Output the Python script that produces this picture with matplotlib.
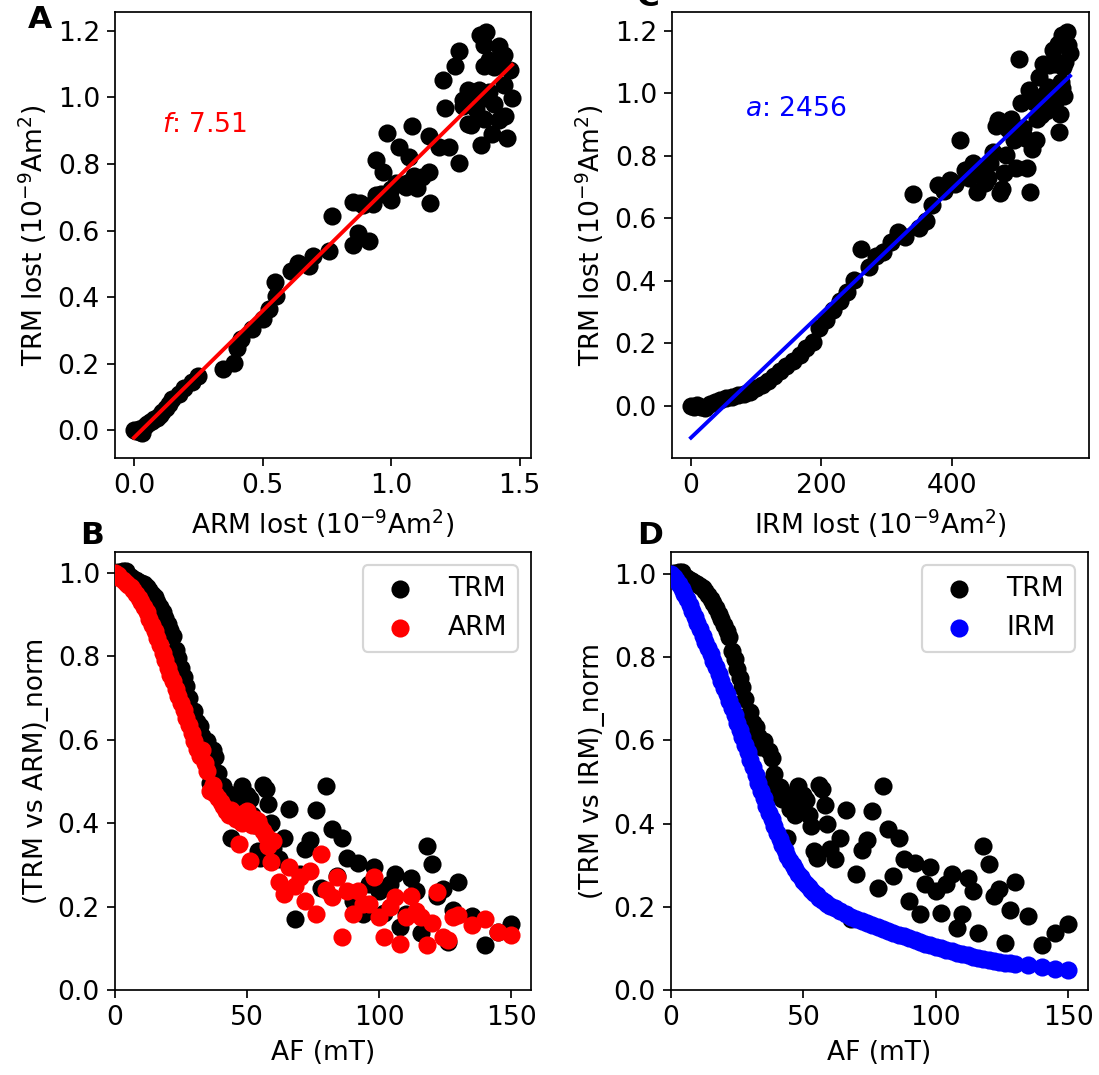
import numpy as np
import matplotlib
matplotlib.use("Agg")
import matplotlib.pyplot as plt

plt.rcParams["font.size"] = 12.3

# Alternating-field demagnetisation steps (mT)
af_mT = [
    0, 1, 2, 3, 4, 5, 6, 7, 8, 9,
    10, 11, 12, 13, 14, 15, 16, 17, 18, 19,
    20, 21, 22, 23, 24, 25, 26, 27, 28, 29,
    30, 31, 32, 33, 34, 35, 36, 37, 38, 39,
    40, 41, 42, 43, 44, 45, 46, 47, 48, 49,
    50, 51, 52, 53, 54, 55, 56, 57, 58, 59,
    60, 62, 64, 66, 68, 70, 72, 74, 76, 78,
    80, 82, 84, 86, 88, 90, 92, 94, 96, 98,
    100, 102, 104, 106, 108, 110, 112, 114, 116, 118,
    120, 122, 124, 126, 128, 130, 135, 140, 145, 150,
]

# Normalised remaining TRM at each step
trm_norm = [
    1.000, 1.002, 0.998, 1.004, 1.005, 0.995, 0.990, 0.985, 0.982, 0.978,
    0.975, 0.972, 0.966, 0.958, 0.950, 0.941, 0.930, 0.918, 0.905, 0.892,
    0.878, 0.862, 0.848, 0.815, 0.795, 0.772, 0.750, 0.728, 0.700, 0.625,
    0.668, 0.643, 0.632, 0.610, 0.585, 0.598, 0.495, 0.575, 0.558, 0.520,
    0.472, 0.488, 0.460, 0.470, 0.365, 0.436, 0.455, 0.421, 0.490, 0.445,
    0.468, 0.457, 0.420, 0.395, 0.333, 0.317, 0.492, 0.483, 0.445, 0.400,
    0.340, 0.314, 0.365, 0.433, 0.171, 0.278, 0.337, 0.360, 0.431, 0.245,
    0.490, 0.387, 0.274, 0.365, 0.316, 0.214, 0.305, 0.183, 0.255, 0.296,
    0.238, 0.185, 0.255, 0.279, 0.150, 0.183, 0.269, 0.238, 0.136, 0.345,
    0.302, 0.226, 0.242, 0.114, 0.192, 0.260, 0.178, 0.108, 0.138, 0.158,
]

# Normalised remaining ARM at each step
arm_norm = [
    1.000, 0.995, 0.988, 0.982, 0.975, 0.970, 0.965, 0.958, 0.950, 0.940,
    0.930, 0.918, 0.905, 0.890, 0.875, 0.860, 0.843, 0.826, 0.808, 0.790,
    0.772, 0.755, 0.740, 0.722, 0.705, 0.688, 0.670, 0.652, 0.636, 0.615,
    0.596, 0.578, 0.560, 0.575, 0.545, 0.524, 0.478, 0.492, 0.470, 0.460,
    0.450, 0.440, 0.429, 0.420, 0.432, 0.421, 0.410, 0.349, 0.400, 0.425,
    0.429, 0.310, 0.395, 0.410, 0.405, 0.390, 0.381, 0.370, 0.345, 0.306,
    0.357, 0.258, 0.230, 0.294, 0.250, 0.270, 0.214, 0.286, 0.183, 0.325,
    0.240, 0.222, 0.270, 0.127, 0.238, 0.183, 0.238, 0.206, 0.206, 0.270,
    0.175, 0.127, 0.200, 0.222, 0.111, 0.175, 0.226, 0.190, 0.175, 0.107,
    0.160, 0.234, 0.127, 0.119, 0.175, 0.179, 0.155, 0.171, 0.139, 0.131,
]

# Normalised remaining IRM at each step
irm_norm = [
    1.000, 0.993, 0.985, 0.975, 0.965, 0.953, 0.940, 0.926, 0.912, 0.897,
    0.882, 0.867, 0.852, 0.837, 0.822, 0.807, 0.792, 0.776, 0.760, 0.744,
    0.727, 0.711, 0.694, 0.677, 0.660, 0.643, 0.625, 0.608, 0.590, 0.572,
    0.553, 0.535, 0.516, 0.497, 0.479, 0.461, 0.443, 0.426, 0.410, 0.394,
    0.378, 0.363, 0.349, 0.336, 0.323, 0.311, 0.300, 0.290, 0.280, 0.271,
    0.262, 0.254, 0.247, 0.240, 0.234, 0.228, 0.222, 0.217, 0.212, 0.207,
    0.203, 0.196, 0.189, 0.182, 0.176, 0.170, 0.165, 0.160, 0.156, 0.151,
    0.147, 0.142, 0.138, 0.133, 0.129, 0.124, 0.120, 0.116, 0.111, 0.107,
    0.103, 0.100, 0.096, 0.093, 0.089, 0.086, 0.083, 0.080, 0.077, 0.075,
    0.072, 0.070, 0.068, 0.066, 0.064, 0.063, 0.059, 0.055, 0.051, 0.047,
]

# ARM lost at each step (10^-9 Am^2), paired with the TRM lost
arm_lost = [
    0.000, 0.010, 0.018, 0.025, 0.030, 0.035, 0.042, 0.050, 0.062, 0.070,
    0.080, 0.090, 0.100, 0.110, 0.125, 0.135, 0.150, 0.175, 0.195, 0.225,
    0.250, 0.345, 0.390, 0.400, 0.417, 0.460, 0.500, 0.525, 0.553, 0.636,
    0.547, 0.610, 0.680, 0.695, 0.850, 0.760, 0.890, 0.915, 0.870, 0.770,
    0.940, 0.850, 1.000, 0.960, 1.030, 1.095, 1.057, 1.147, 1.150, 1.020,
    0.990, 1.100, 0.970, 0.940, 0.985, 1.080, 0.930, 1.000, 1.060, 1.264,
    1.147, 1.300, 1.225, 1.120, 1.380, 1.210, 1.390, 1.350, 1.090, 1.330,
    0.880, 1.070, 1.280, 1.186, 1.310, 1.200, 1.420, 1.250, 1.360, 1.444,
    1.300, 1.400, 1.470, 1.330, 1.264, 1.360, 1.400, 1.340, 1.360, 1.450,
    1.360, 1.440, 1.380, 1.347, 1.460, 1.280, 1.430, 1.370, 1.420, 1.440,
]

# Initial moments (10^-9 Am^2)
TRM0 = 1.34
IRM0 = 610.0

f_value = "7.51"
a_value = "2456"

af = np.array(af_mT, dtype=float)
trm = np.array(trm_norm)
arm = np.array(arm_norm)
irm = np.array(irm_norm)

trm_lost = TRM0 * (1.0 - trm)
arm_lost = np.array(arm_lost)
irm_lost = IRM0 * (1.0 - irm)

DPI = 155
W, H = 1099, 1075
fig = plt.figure(figsize=(W / DPI, H / DPI), dpi=DPI)


def box(left, top, right, bottom):
    return [left / W, 1 - bottom / H, (right - left) / W, (bottom - top) / H]


axA = fig.add_axes(box(115, 12, 531, 458))
axC = fig.add_axes(box(672, 12, 1089, 458))
axB = fig.add_axes(box(115, 552, 531, 990))
axD = fig.add_axes(box(671, 552, 1088, 990))

S = 55
unit = r"(10$^{-9}$Am$^2$)"

# TRM lost vs ARM lost with linear fit
axA.scatter(arm_lost, trm_lost, s=S, c="k", zorder=2)
kA, bA = np.polyfit(arm_lost, trm_lost, 1)
xA = np.array([arm_lost.min(), arm_lost.max()])
axA.plot(xA, kA * xA + bA, color="r", lw=1.8, zorder=3)
axA.text(0.113, 0.746, r"$f$: " + f_value, color="r",
         transform=axA.transAxes, va="center", ha="left")
axA.set_xlabel("ARM lost " + unit)
axA.set_ylabel("TRM lost " + unit)

# TRM lost vs IRM lost with linear fit
axC.scatter(irm_lost, trm_lost, s=S, c="k", zorder=2)
kC, bC = np.polyfit(irm_lost, trm_lost, 1)
xC = np.array([irm_lost.min(), irm_lost.max()])
axC.plot(xC, kC * xC + bC, color="b", lw=1.8, zorder=3)
axC.text(0.175, 0.782, r"$a$: " + a_value, color="b",
         transform=axC.transAxes, va="center", ha="left")
axC.set_xticks([0, 200, 400])
axC.set_xlabel("IRM lost " + unit)
axC.set_ylabel("TRM lost " + unit)

# Demagnetisation curves
axB.scatter(af, trm, s=S, c="k", label="TRM", zorder=2)
axB.scatter(af, arm, s=S, c="r", label="ARM", zorder=3)
axB.set_xlim(left=0)
axB.set_ylim(bottom=0)
axB.set_xlabel("AF (mT)")
axB.set_ylabel("(TRM vs ARM)_norm")
axB.legend(loc="upper right")

axD.scatter(af, trm, s=S, c="k", label="TRM", zorder=2)
axD.scatter(af, irm, s=S, c="b", label="IRM", zorder=3)
axD.set_xlim(left=0)
axD.set_ylim(bottom=0)
axD.set_xlabel("AF (mT)")
axD.set_ylabel("(TRM vs IRM)_norm")
axD.legend(loc="upper right")

for lbl, x, y in [("A", 40, 20), ("C", 648, -3), ("B", 92, 535), ("D", 650, 535)]:
    fig.text(x / W, 1 - y / H, lbl, fontsize=14.5, fontweight="bold",
             ha="center", va="center")

fig.savefig("out.png", dpi=DPI)
